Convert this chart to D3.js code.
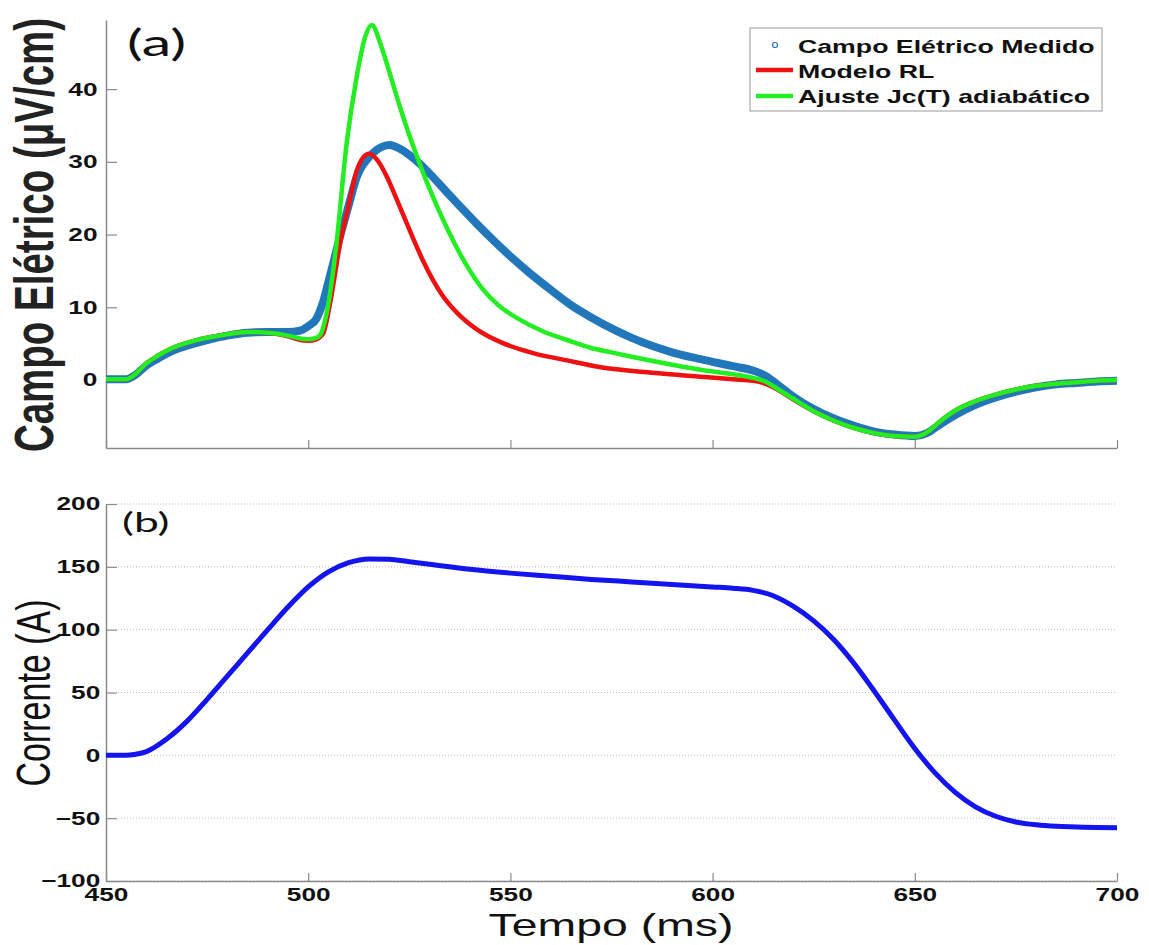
<!DOCTYPE html>
<html>
<head>
<meta charset="utf-8">
<script src="https://cdn.jsdelivr.net/npm/d3@7"></script>
<style>
  body { margin: 0; background: #fff; }
  svg { display: block; }
</style>
</head>
<body>
<div id="chart"></div>
<script>
// Time axis (ms) and values for each series
var tMedido = [450,455,457,460,463,466,470,475,480,485,490,495,498,500,502,503.5,505,508,510,512,515,518,520,523,526,530,534,538,542,546,550,555,560,565,570,575,580,585,590,595,600,605,610,613,616,620,625,630,635,640,645,650,653,656,660,665,670,675,680,685,690,695,700];
var eMedido = [0.1,0.1,0.6,2.0,3.0,3.9,4.7,5.5,6.1,6.5,6.6,6.6,6.8,7.4,8.4,10.4,13.5,20,24,27.9,30.6,32,32.3,31.7,30.5,28.4,26,23.6,21.3,19.1,17.0,14.6,12.4,10.3,8.6,7.1,5.8,4.7,3.8,3.1,2.5,1.9,1.3,0.6,-0.6,-2.3,-4.0,-5.3,-6.3,-7.1,-7.5,-7.7,-7.3,-6.2,-4.8,-3.4,-2.4,-1.6,-1.0,-0.6,-0.4,-0.2,-0.1];

var tRL = [450,455,457,460,463,466,470,475,480,485,490,495,498,500,502,503.7,505.4,507.9,510,512,515,517,519.4,521,523.5,526,528.4,531,533,536.7,541.6,548,555.6,564,572,585,597,605,610,613,616,620,625,630,635,640,645,650,653,656,660,665,670,675,680,685,690,695,700];
var eRL = [0.1,0.1,0.7,2.3,3.4,4.3,5.1,5.8,6.3,6.6,6.5,6.0,5.5,5.4,5.6,6.4,10.5,18.8,24,28.8,31.1,30.3,28.0,26.0,22.7,19.4,16.4,13.6,11.8,9.3,7.0,5.1,3.7,2.7,1.8,1.0,0.45,0.1,-0.1,-0.5,-1.3,-2.7,-4.3,-5.6,-6.6,-7.3,-7.7,-7.8,-7.2,-5.8,-4.2,-2.9,-2.0,-1.3,-0.8,-0.5,-0.3,-0.1,0];

var tAjuste = [450,455,457,460,463,466,470,475,480,485,490,495,498,500,502,503,504,505,507,509.5,512,514,515.7,518,520,522,524,526,528,530,532,535,537.5,540,543,547,552,558,564,570,575,580,590,597,605,610,613,616,620,625,630,635,640,645,650,653,656,660,665,670,675,680,685,690,695,700];
var eAjuste = [0.1,0.1,0.7,2.3,3.4,4.3,5.1,5.8,6.3,6.6,6.5,6.1,5.7,5.6,5.8,6.2,7.8,10.5,18.8,32.5,41.7,47,48.8,46.0,42.5,38.8,35.3,32.1,29.1,26.3,23.7,20.1,17.4,15.0,12.6,10.3,8.4,6.7,5.5,4.4,3.8,3.2,2.1,1.4,0.8,0.3,-0.2,-1.2,-2.6,-4.3,-5.6,-6.6,-7.3,-7.7,-7.8,-7.2,-5.8,-4.2,-2.9,-2.0,-1.3,-0.8,-0.5,-0.3,-0.1,0];

var tCorrente = [450,455,457,460,465,470,475,480,485,490,495,500,505,510,515,520,525,530,540,550,560,570,580,590,600,605,610,615,620,625,630,635,640,645,650,655,660,665,670,675,680,685,690,695,700];
var iCorrente = [0,0,0.6,3,13,27,44.5,63,81.5,100,118,134,146,153.3,156.3,156,154,152,148,145,142.5,140,138,136,134,133,131.3,127,118.5,107,92,73,51,28,5.5,-14,-29.5,-41,-48.5,-53,-55.3,-56.5,-57,-57.5,-57.7];

var legendLabels = ["Campo Elétrico Medido", "Modelo RL", "Ajuste Jc(T) adiabático"];
var topTicks = [0, 10, 20, 30, 40];
var bottomTicks = [-100, -50, 0, 50, 100, 150, 200];
var timeTicks = [450, 500, 550, 600, 650, 700];

// The picture is stretched horizontally, so text is widened too
var SX = 1.42;
var svgWidth = 1149, svgHeight = 945;
var axisColor = "#8a8a8a";
var tickFont = "'Liberation Sans', Arial, sans-serif";

var svg = d3.select("#chart").append("svg")
  .attr("width", svgWidth)
  .attr("height", svgHeight);

var x = d3.scaleLinear().domain([450, 700]).range([106, 1117]);
var yTop = d3.scaleLinear().domain([-9.35, 49.5]).range([448, 20]);
var yBot = d3.scaleLinear().domain([-100, 200]).range([881, 504]);

function styleAxis(g) {
  g.select(".domain").attr("stroke", axisColor).attr("stroke-width", 1.5);
  g.selectAll(".tick line").attr("stroke", axisColor).attr("stroke-width", 1.2);
  g.selectAll(".tick text")
    .style("font-family", tickFont)
    .style("font-weight", "bold")
    .style("font-size", "18.5px")
    .attr("fill", "#111")
    .attr("transform", "scale(" + SX + ",1)");
}

function pairs(ts, vs) { return ts.map(function(t, i) { return [t, vs[i]]; }); }

// ---------- panel (a) ----------
var gTopY = svg.append("g")
  .attr("transform", "translate(" + x.range()[0] + ",0)")
  .call(d3.axisLeft(yTop).tickValues(topTicks).tickSizeInner(-11).tickSizeOuter(0).tickPadding(6));
styleAxis(gTopY);

var gTopX = svg.append("g")
  .attr("transform", "translate(0," + yTop.range()[0] + ")")
  .call(d3.axisBottom(x).tickValues(timeTicks).tickSizeInner(-8).tickSizeOuter(0).tickFormat(""));
styleAxis(gTopX);

var lineTop = d3.line()
  .x(function(d) { return x(d[0]); })
  .y(function(d) { return yTop(d[1]); })
  .curve(d3.curveMonotoneX);

svg.append("path")
  .datum(pairs(tMedido, eMedido))
  .attr("d", lineTop)
  .attr("fill", "none")
  .attr("stroke", "#2277bb")
  .attr("stroke-width", 8)
  .attr("stroke-linejoin", "round");

svg.append("path")
  .datum(pairs(tRL, eRL))
  .attr("d", lineTop)
  .attr("fill", "none")
  .attr("stroke", "#ee1111")
  .attr("stroke-width", 4.5)
  .attr("stroke-linejoin", "round");

svg.append("path")
  .datum(pairs(tAjuste, eAjuste))
  .attr("d", lineTop)
  .attr("fill", "none")
  .attr("stroke", "#22ee22")
  .attr("stroke-width", 4.5)
  .attr("stroke-linejoin", "round");

// panel label (a)
svg.append("text")
  .attr("transform", "translate(127,56) scale(1.65,1)")
  .style("font-family", "Lato, 'Open Sans', sans-serif")
  .style("font-size", "36px")
  .attr("fill", "#111")
  .text("(a)");

// y label (a)
svg.append("text")
  .attr("transform", "translate(53,235) scale(" + SX + ",1) rotate(-90)")
  .attr("text-anchor", "middle")
  .style("font-family", tickFont)
  .style("font-weight", "bold")
  .style("font-size", "38.5px")
  .attr("fill", "#222")
  .text("Campo Elétrico (μV/cm)");

// legend
var legend = svg.append("g");
legend.append("rect")
  .attr("x", 750).attr("y", 28).attr("width", 352).attr("height", 83)
  .attr("fill", "#fff").attr("stroke", "#999").attr("stroke-width", 1);
legend.append("circle")
  .attr("cx", 775).attr("cy", 45).attr("r", 2.5)
  .attr("fill", "none").attr("stroke", "#2277bb").attr("stroke-width", 1.2);
legend.append("line")
  .attr("x1", 756).attr("x2", 793).attr("y1", 70).attr("y2", 70)
  .attr("stroke", "#ee1111").attr("stroke-width", 4.5);
legend.append("line")
  .attr("x1", 756).attr("x2", 793).attr("y1", 96).attr("y2", 96)
  .attr("stroke", "#22ee22").attr("stroke-width", 4.5);
var legendY = [53, 78, 103];
legendLabels.forEach(function(label, i) {
  legend.append("text")
    .attr("transform", "translate(798," + legendY[i] + ") scale(" + SX + ",1)")
    .style("font-family", tickFont)
    .style("font-weight", "bold")
    .style("font-size", "18.8px")
    .attr("fill", "#111")
    .text(label);
});

// ---------- panel (b) ----------
// dotted grid
svg.append("g").selectAll("line")
  .data(bottomTicks)
  .enter().append("line")
  .attr("x1", x.range()[0] + 12).attr("x2", x.range()[1])
  .attr("y1", function(d) { return yBot(d); })
  .attr("y2", function(d) { return yBot(d); })
  .attr("stroke", "#bbb")
  .attr("stroke-width", 1)
  .attr("stroke-dasharray", "1,2");

var gBotY = svg.append("g")
  .attr("transform", "translate(" + x.range()[0] + ",0)")
  .call(d3.axisLeft(yBot).tickValues(bottomTicks).tickSizeInner(-11).tickSizeOuter(0).tickPadding(4));
styleAxis(gBotY);

var gBotX = svg.append("g")
  .attr("transform", "translate(0," + yBot.range()[0] + ")")
  .call(d3.axisBottom(x).tickValues(timeTicks).tickSizeInner(-8).tickSizeOuter(0).tickPadding(7));
styleAxis(gBotX);

var lineBot = d3.line()
  .x(function(d) { return x(d[0]); })
  .y(function(d) { return yBot(d[1]); })
  .curve(d3.curveMonotoneX);

svg.append("path")
  .datum(pairs(tCorrente, iCorrente))
  .attr("d", lineBot)
  .attr("fill", "none")
  .attr("stroke", "#1414ee")
  .attr("stroke-width", 5)
  .attr("stroke-linejoin", "round");

svg.append("text")
  .attr("transform", "translate(122,532) scale(1.65,1)")
  .style("font-family", "Lato, 'Open Sans', sans-serif")
  .style("font-size", "27px")
  .attr("fill", "#111")
  .text("(b)");

svg.append("text")
  .attr("transform", "translate(50,693) scale(" + SX + ",1) rotate(-90)")
  .attr("text-anchor", "middle")
  .style("font-family", tickFont)
  .style("font-size", "34px")
  .attr("fill", "#111")
  .text("Corrente (A)");

svg.append("text")
  .attr("transform", "translate(611,936) scale(1.45,1)")
  .attr("text-anchor", "middle")
  .style("font-family", tickFont)
  .style("font-size", "32px")
  .attr("fill", "#111")
  .text("Tempo (ms)");
</script>
</body>
</html>
